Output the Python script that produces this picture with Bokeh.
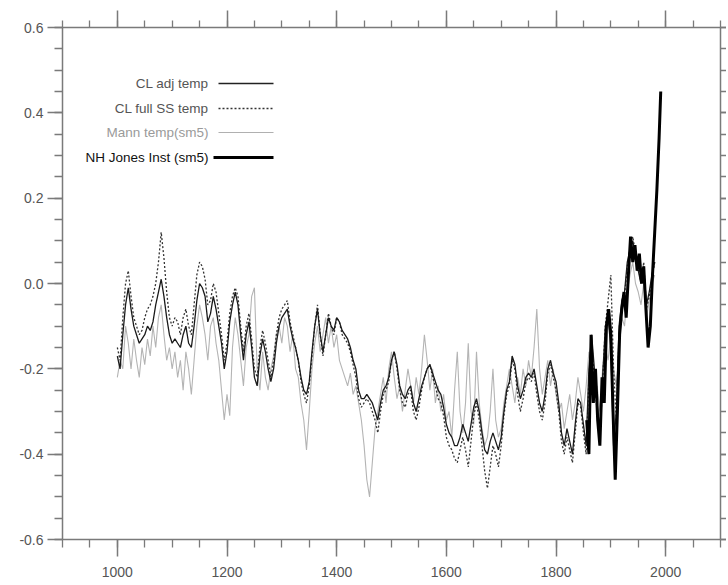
from bokeh.plotting import figure
from bokeh.models import LinearAxis, FixedTicker, Range1d, Label, Arrow, NumeralTickFormatter
from bokeh.embed import file_html
from bokeh.resources import INLINE

# ---------------- data ----------------
years = list(range(1000, 1985, 5))

cl_adj = [
    -0.17, -0.20, -0.12, -0.05, -0.01, -0.06, -0.10, -0.12, -0.14, -0.13, -0.12, -0.10, -0.11, -0.09, -0.05, -0.02, 0.01, -0.03, -0.08, -0.12,
    -0.14, -0.13, -0.14, -0.15, -0.12, -0.10, -0.14, -0.15, -0.10, -0.04, 0.00, -0.01, -0.03, -0.09, -0.07, -0.03, -0.06, -0.10, -0.14, -0.20,
    -0.16, -0.09, -0.05, -0.02, -0.05, -0.12, -0.18, -0.12, -0.09, -0.15, -0.22, -0.24, -0.17, -0.13, -0.16, -0.20, -0.23, -0.20, -0.14, -0.10,
    -0.08, -0.07, -0.06, -0.10, -0.13, -0.15, -0.18, -0.22, -0.25, -0.26, -0.23, -0.16, -0.10, -0.06, -0.12, -0.16, -0.12, -0.08, -0.10, -0.11,
    -0.08, -0.09, -0.11, -0.12, -0.13, -0.15, -0.18, -0.20, -0.25, -0.27, -0.27, -0.26, -0.27, -0.28, -0.30, -0.32, -0.28, -0.25, -0.24, -0.22,
    -0.18, -0.16, -0.19, -0.24, -0.26, -0.27, -0.25, -0.24, -0.28, -0.30, -0.27, -0.24, -0.22, -0.20, -0.19, -0.21, -0.23, -0.25, -0.26, -0.29,
    -0.33, -0.35, -0.36, -0.38, -0.38, -0.36, -0.33, -0.35, -0.37, -0.33, -0.29, -0.27, -0.30, -0.35, -0.39, -0.40, -0.37, -0.35, -0.37, -0.39,
    -0.36, -0.30, -0.25, -0.23, -0.17, -0.19, -0.24, -0.27, -0.25, -0.22, -0.21, -0.22, -0.20, -0.24, -0.28, -0.30, -0.26, -0.20, -0.18, -0.21,
    -0.23, -0.28, -0.35, -0.38, -0.34, -0.37, -0.40, -0.33, -0.27, -0.28, -0.33, -0.38, -0.20, -0.12, -0.20, -0.28, -0.35, -0.22, -0.10, -0.08,
    -0.15, -0.38, -0.30, -0.10, -0.04, -0.02, 0.05, 0.08, 0.10, 0.06, 0.03, 0.00, 0.04, -0.05, -0.02, 0.02, 0.05,
]

cl_full_ss = [
    -0.15, -0.18, -0.08, 0.00, 0.03, -0.03, -0.08, -0.10, -0.12, -0.11, -0.08, -0.06, -0.05, -0.03, 0.00, 0.05, 0.12, 0.06, -0.02, -0.08,
    -0.10, -0.08, -0.09, -0.12, -0.08, -0.06, -0.10, -0.12, -0.05, 0.02, 0.05, 0.04, 0.01, -0.05, -0.04, 0.00, -0.02, -0.07, -0.12, -0.18,
    -0.14, -0.07, -0.03, -0.01, -0.03, -0.10, -0.16, -0.10, -0.07, -0.13, -0.20, -0.22, -0.15, -0.11, -0.14, -0.18, -0.22, -0.18, -0.12, -0.08,
    -0.06, -0.05, -0.04, -0.09, -0.12, -0.15, -0.18, -0.23, -0.26, -0.28, -0.24, -0.17, -0.10, -0.05, -0.12, -0.17, -0.12, -0.07, -0.10, -0.12,
    -0.08, -0.09, -0.12, -0.13, -0.14, -0.16, -0.19, -0.22, -0.27, -0.29, -0.28, -0.27, -0.28, -0.30, -0.32, -0.35, -0.30, -0.26, -0.25, -0.23,
    -0.18, -0.16, -0.20, -0.25, -0.28, -0.29, -0.26, -0.25, -0.30, -0.32, -0.29, -0.25, -0.22, -0.20, -0.19, -0.22, -0.24, -0.27, -0.28, -0.31,
    -0.36, -0.38, -0.39, -0.41, -0.42, -0.39, -0.36, -0.39, -0.43, -0.37, -0.31, -0.28, -0.32, -0.38, -0.44, -0.48, -0.43, -0.38, -0.40, -0.43,
    -0.38, -0.31, -0.26, -0.24, -0.18, -0.20, -0.26, -0.30, -0.27, -0.23, -0.22, -0.23, -0.21, -0.26, -0.30, -0.32, -0.28, -0.21, -0.19, -0.22,
    -0.25, -0.30, -0.37, -0.40, -0.36, -0.39, -0.42, -0.35, -0.28, -0.29, -0.35, -0.40, -0.22, -0.14, -0.22, -0.30, -0.37, -0.23, -0.10, -0.04,
    0.02, -0.20, -0.32, -0.12, -0.06, -0.03, 0.04, 0.08, 0.11, 0.07, 0.04, 0.00, 0.05, -0.06, -0.03, 0.01, 0.05,
]

mann_sm5 = [
    -0.22, -0.18, -0.20, -0.10, -0.14, -0.20, -0.13, -0.18, -0.22, -0.15, -0.19, -0.13, -0.17, -0.10, -0.15, -0.08, -0.05, -0.12, -0.18, -0.15,
    -0.20, -0.16, -0.22, -0.18, -0.25, -0.16, -0.20, -0.26, -0.18, -0.10, -0.05, -0.08, -0.12, -0.18, -0.10, -0.08, -0.14, -0.18, -0.25, -0.32,
    -0.26, -0.31, -0.15, -0.08, -0.12, -0.18, -0.24, -0.15, -0.12, -0.03, -0.01, -0.20, -0.25, -0.16, -0.22, -0.25, -0.20, -0.17, -0.12, -0.10,
    -0.14, -0.08, -0.10, -0.16, -0.12, -0.20, -0.22, -0.28, -0.32, -0.39, -0.30, -0.20, -0.14, -0.10, -0.16, -0.12, -0.08, -0.14, -0.10, -0.15,
    -0.12, -0.18, -0.20, -0.22, -0.24, -0.21, -0.26, -0.24, -0.28, -0.32, -0.38, -0.46, -0.50, -0.42, -0.34, -0.30, -0.26, -0.22, -0.28, -0.20,
    -0.16, -0.22, -0.27, -0.24, -0.30, -0.25, -0.20, -0.24, -0.28, -0.22, -0.26, -0.20, -0.12, -0.18, -0.25, -0.20, -0.28, -0.24, -0.30, -0.26,
    -0.32, -0.30, -0.36, -0.25, -0.16, -0.30, -0.35, -0.28, -0.14, -0.30, -0.33, -0.16, -0.28, -0.34, -0.38, -0.36, -0.30, -0.20, -0.32, -0.36,
    -0.34, -0.28, -0.24, -0.20, -0.24, -0.28, -0.22, -0.26, -0.20, -0.24, -0.18, -0.22, -0.15, -0.06, -0.20, -0.26, -0.22, -0.18, -0.24, -0.20,
    -0.26, -0.30, -0.28, -0.34, -0.30, -0.26, -0.32, -0.28, -0.22, -0.26, -0.30, -0.24, -0.16, -0.22, -0.28, -0.24, -0.30, -0.20, -0.15, -0.18,
    -0.12, -0.20, -0.24, -0.14, -0.08, -0.10, -0.02, 0.02, 0.05, 0.00, -0.02, -0.05, 0.00, -0.08, -0.04, 0.00, 0.02,
]

jones_years = [1856, 1860, 1864, 1868, 1872, 1876, 1880, 1884, 1888, 1892, 1896, 1900,
               1904, 1908, 1912, 1916, 1920, 1924, 1928, 1932, 1936, 1940, 1944, 1948,
               1952, 1956, 1960, 1964, 1968, 1972, 1976, 1980, 1984, 1988, 1991]
jones_sm5 = [-0.32, -0.40, -0.12, -0.28, -0.20, -0.32, -0.38, -0.22, -0.28, -0.10, -0.06, -0.12,
             -0.30, -0.46, -0.30, -0.12, -0.06, -0.02, -0.08, 0.02, 0.11, 0.05, 0.09, 0.03,
             0.07, 0.00, 0.04, -0.06, -0.15, -0.10, 0.02, 0.12, 0.22, 0.34, 0.45]

x_major = [1000, 1200, 1400, 1600, 1800, 2000]
y_major = [-0.6, -0.4, -0.2, 0.0, 0.2, 0.4, 0.6]

legend_labels = ["CL adj temp", "CL full SS temp", "Mann temp(sm5)", "NH Jones Inst (sm5)"]

# ---------------- figure ----------------
FONT = "Liberation Sans"
AX_COL = "#7a7a7a"

p = figure(width=726, height=584, output_backend="svg", toolbar_location=None,
           x_range=Range1d(900, 2100), y_range=Range1d(-0.6, 0.6),
           min_border_left=62, min_border_right=6, min_border_top=27, min_border_bottom=45)
p.grid.visible = False
p.outline_line_color = None
p.background_fill_color = "white"

x_ticker = FixedTicker(ticks=x_major, minor_ticks=list(range(900, 2101, 50)))
y_ticker = FixedTicker(ticks=y_major, minor_ticks=[round(-0.6 + 0.05 * i, 2) for i in range(25)])


def style_axis(ax, major_out, minor_out):
    ax.axis_line_color = AX_COL
    ax.axis_line_width = 1.5
    ax.major_tick_line_color = AX_COL
    ax.major_tick_line_width = 1.5
    ax.minor_tick_line_color = AX_COL
    ax.minor_tick_line_width = 1.3
    ax.major_tick_in = 0
    ax.minor_tick_in = 0
    ax.major_tick_out = major_out
    ax.minor_tick_out = minor_out
    ax.major_label_text_font = FONT
    ax.major_label_text_font_size = "14px"
    ax.major_label_text_color = "#555555"


xb = p.xaxis[0]
xb.ticker = x_ticker
style_axis(xb, 17, 8)
xb.major_label_standoff = 10

yl = p.yaxis[0]
yl.ticker = y_ticker
yl.formatter = NumeralTickFormatter(format="0.0")
style_axis(yl, 15, 8)
yl.major_label_standoff = 4

xt = LinearAxis(ticker=x_ticker)
style_axis(xt, 17, 7)
xt.major_label_text_color = None
xt.major_label_standoff = 0
p.add_layout(xt, "above")

yr = LinearAxis(ticker=y_ticker)
style_axis(yr, 6, 6)
yr.major_label_text_color = None
yr.major_label_standoff = 0
p.add_layout(yr, "right")

# ---------------- series ----------------
p.line(years, mann_sm5, line_color="#b4b4b4", line_width=1.1)
p.line(years, cl_full_ss, line_color="#333333", line_width=1.3, line_dash="2 2")
p.line(years, cl_adj, line_color="#1a1a1a", line_width=1.3)
p.line(jones_years, jones_sm5, line_color="#000000", line_width=3)

# ---------------- legend (label left, sample right) ----------------
def px_x(px):
    return 900 + (px - 62) * 1200.0 / 658.0


def px_y(py):
    return 0.6 - (py - 27) * 1.2 / 512.0


rows_py = [83, 108, 132, 157]
text_right_px = 208
line_start_px = [218, 218, 218, 213]
line_end_px = 273
text_cols = ["#555555", "#555555", "#9a9a9a", "#111111"]
line_cols = ["#222222", "#333333", "#b0b0b0", "#000000"]
line_widths = [1.5, 1.5, 1.2, 3]
line_dashes = ["solid", "2 2", "solid", "solid"]

for lab, py, tc, lc, lw, ld, ls in zip(legend_labels, rows_py, text_cols, line_cols,
                                       line_widths, line_dashes, line_start_px):
    p.add_layout(Label(x=px_x(text_right_px), y=px_y(py), text=lab, text_align="right",
                       text_baseline="middle", text_font=FONT, text_font_size="13.5px",
                       text_color=tc))
    p.add_layout(Arrow(end=None, x_start=px_x(ls), y_start=px_y(py),
                       x_end=px_x(line_end_px), y_end=px_y(py),
                       line_color=lc, line_width=lw, line_dash=ld))

open("out.html", "w").write(file_html(p, INLINE))
